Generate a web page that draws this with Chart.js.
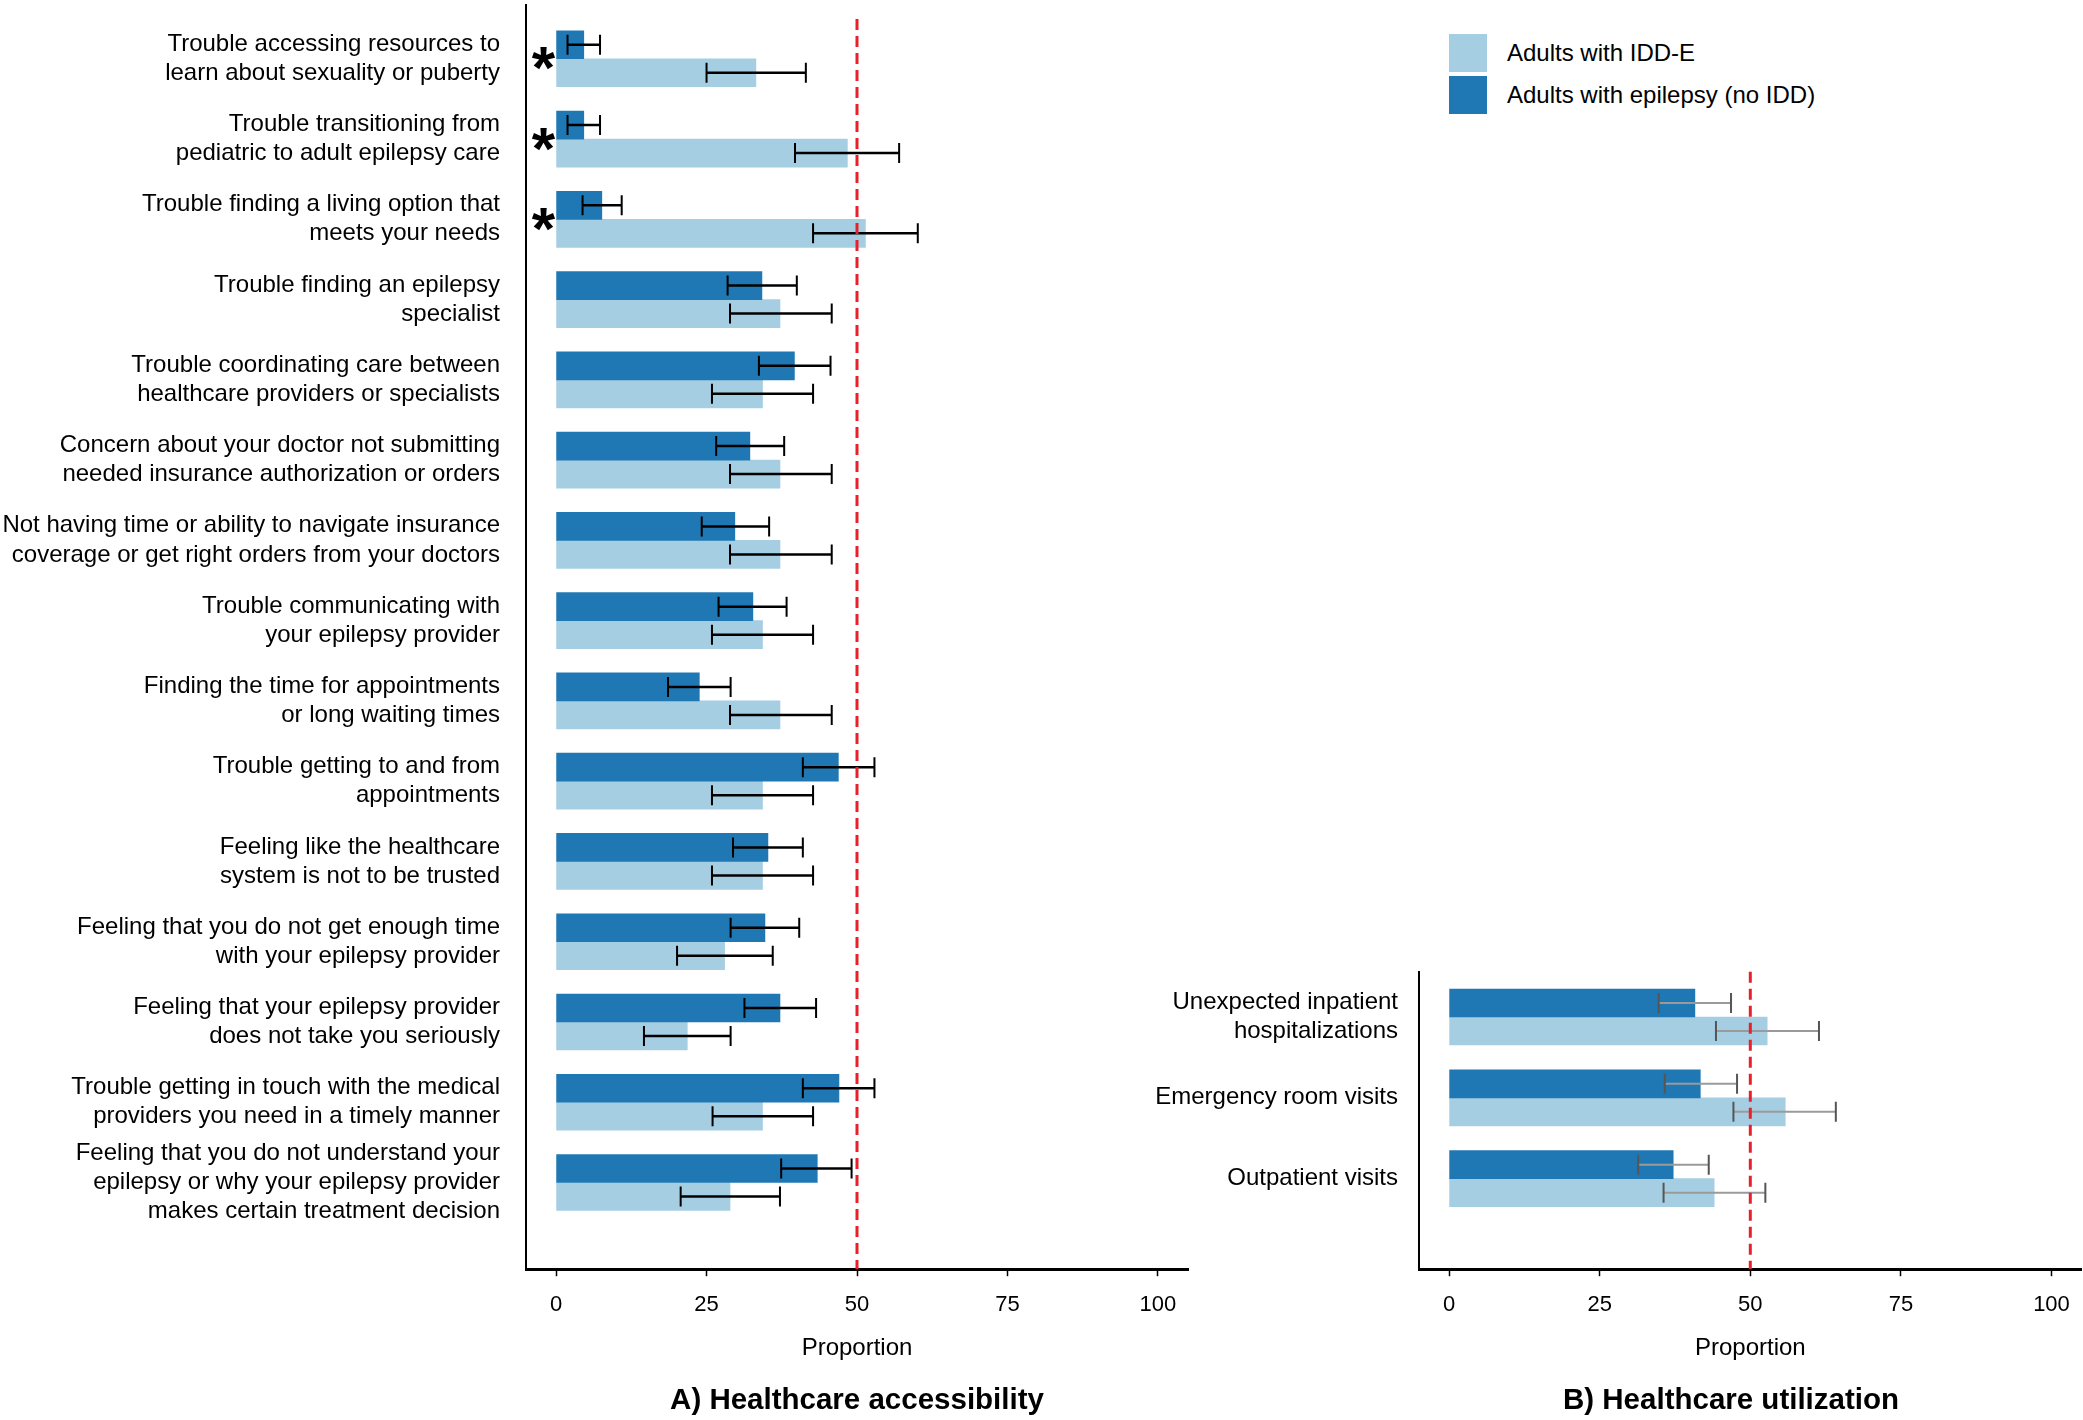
<!DOCTYPE html>
<html>
<head>
<meta charset="utf-8">
<title>Healthcare accessibility and utilization</title>
<script src="https://cdn.jsdelivr.net/npm/chart.js@4.4.1/dist/chart.umd.min.js"></script>
<style>
    html, body { margin: 0; padding: 0; background: #fff; }
    body { width: 2083px; height: 1420px; position: relative; overflow: hidden; font-family: "Liberation Sans", Arial, sans-serif; }
    canvas { position: absolute; }
    #chartA { left: 0; top: 0; }
    #chartB { left: 1100px; top: 900px; }
    #legend { position: absolute; left: 1449px; top: 34px; }
    #legend .item { height: 38px; margin-bottom: 4px; display: flex; align-items: center; font-size: 24px; color: #000; }
    #legend .swatch { width: 38px; height: 38px; margin-right: 20px; display: inline-block; }
</style>
</head>
<body>
<canvas id="chartA" width="1200" height="1420"></canvas>
<canvas id="chartB" width="1262" height="520"></canvas>
<div id="legend"></div>
<script>
/*
 * Data (proportions, %)
 */
var categoriesA = [
    ['Trouble accessing resources to', 'learn about sexuality or puberty'],
    ['Trouble transitioning from', 'pediatric to adult epilepsy care'],
    ['Trouble finding a living option that', 'meets your needs'],
    ['Trouble finding an epilepsy', 'specialist'],
    ['Trouble coordinating care between', 'healthcare providers or specialists'],
    ['Concern about your doctor not submitting', 'needed insurance authorization or orders'],
    ['Not having time or ability to navigate insurance', 'coverage or get right orders from your doctors'],
    ['Trouble communicating with', 'your epilepsy provider'],
    ['Finding the time for appointments', 'or long waiting times'],
    ['Trouble getting to and from', 'appointments'],
    ['Feeling like the healthcare', 'system is not to be trusted'],
    ['Feeling that you do not get enough time', 'with your epilepsy provider'],
    ['Feeling that your epilepsy provider', 'does not take you seriously'],
    ['Trouble getting in touch with the medical', 'providers you need in a timely manner'],
    ['Feeling that you do not understand your', 'epilepsy or why your epilepsy provider', 'makes certain treatment decision']
];
var epilepsyA   = [4.6, 4.6, 7.6, 34.2, 39.6, 32.2, 29.7, 32.7, 23.8, 46.9, 35.2, 34.7, 37.2, 47.0, 43.4];
var epilepsyALo = [1.9, 1.9, 4.4, 28.5, 33.7, 26.6, 24.2, 27.0, 18.6, 41.0, 29.4, 29.0, 31.3, 41.0, 37.4];
var epilepsyAHi = [7.3, 7.3, 10.9, 40.0, 45.6, 37.9, 35.4, 38.3, 29.0, 52.9, 41.0, 40.4, 43.2, 52.9, 49.1];
var iddA        = [33.2, 48.4, 51.4, 37.2, 34.3, 37.2, 37.2, 34.3, 37.2, 34.3, 34.3, 28.0, 21.8, 34.3, 28.9];
var iddALo      = [25.0, 39.7, 42.7, 28.9, 25.9, 28.9, 28.9, 25.9, 28.9, 25.9, 25.9, 20.1, 14.6, 26.0, 20.7];
var iddAHi      = [41.5, 57.0, 60.1, 45.8, 42.7, 45.8, 45.8, 42.7, 45.8, 42.7, 42.7, 36.0, 29.0, 42.7, 37.2];
var significantA = [true, true, true, false, false, false, false, false, false, false, false, false, false, false, false];

var categoriesB = [
    ['Unexpected inpatient', 'hospitalizations'],
    'Emergency room visits',
    'Outpatient visits'
];
var epilepsyB   = [40.8, 41.7, 37.2];
var epilepsyBLo = [34.8, 35.8, 31.4];
var epilepsyBHi = [46.8, 47.8, 43.1];
var iddB        = [52.8, 55.8, 44.0];
var iddBLo      = [44.3, 47.2, 35.6];
var iddBHi      = [61.4, 64.2, 52.5];

var xTicks = [0, 25, 50, 75, 100];
var referenceValue = 50;

var labelEpilepsy = 'Adults with epilepsy (no IDD)';
var labelIdd = 'Adults with IDD-E';
var colorEpilepsy = '#1f78b4';
var colorIdd = '#a6cee3';

Chart.defaults.font.family = '"Liberation Sans", Arial, sans-serif';
Chart.defaults.color = '#000';

/*
 * Error bars, drawn at each bar centre
 */
var errorBarsPlugin = {
    id: 'errorBars',
    afterDatasetsDraw: function(chart, args, opts) {
        var ctx = chart.ctx;
        var xScale = chart.scales.x;
        var cap = opts.capSize || 20;
        chart.data.datasets.forEach(function(ds, di) {
            var meta = chart.getDatasetMeta(di);
            meta.data.forEach(function(bar, i) {
                var x1 = xScale.getPixelForValue(ds.errLo[i]);
                var x2 = xScale.getPixelForValue(ds.errHi[i]);
                var y = bar.y;
                ctx.save();
                ctx.strokeStyle = opts.color;
                ctx.lineWidth = opts.width;
                ctx.beginPath();
                ctx.moveTo(x1, y);
                ctx.lineTo(x2, y);
                ctx.stroke();
                ctx.strokeStyle = opts.capColor;
                ctx.lineWidth = opts.capWidth;
                ctx.beginPath();
                ctx.moveTo(x1, y - cap / 2);
                ctx.lineTo(x1, y + cap / 2);
                ctx.moveTo(x2, y - cap / 2);
                ctx.lineTo(x2, y + cap / 2);
                ctx.stroke();
                ctx.restore();
            });
        });
    }
};

/*
 * Dashed reference line at 50%
 */
var refLinePlugin = {
    id: 'refLine',
    afterDatasetsDraw: function(chart, args, opts) {
        var ctx = chart.ctx;
        var area = chart.chartArea;
        var x = chart.scales.x.getPixelForValue(opts.value);
        ctx.save();
        ctx.strokeStyle = '#e8202a';
        ctx.lineWidth = 3;
        ctx.setLineDash([11, 6]);
        ctx.beginPath();
        ctx.moveTo(x, area.top + (opts.topOffset || 0));
        ctx.lineTo(x, area.bottom);
        ctx.stroke();
        ctx.restore();
    }
};

/*
 * Significance asterisks left of the bars
 */
var sigPlugin = {
    id: 'sigMarks',
    afterDatasetsDraw: function(chart, args, opts) {
        if (!opts.flags) return;
        var ctx = chart.ctx;
        ctx.save();
        ctx.font = 'bold 60px "Liberation Sans", Arial, sans-serif';
        ctx.fillStyle = '#000';
        ctx.textAlign = 'center';
        ctx.textBaseline = 'alphabetic';
        var m = ctx.measureText('*');
        var dy = (m.actualBoundingBoxAscent - m.actualBoundingBoxDescent) / 2;
        opts.flags.forEach(function(flag, i) {
            if (!flag) return;
            var x = chart.scales.x.getPixelForValue(opts.at);
            var y = chart.scales.y.getPixelForValue(i);
            ctx.fillText('*', x, y + dy);
        });
        ctx.restore();
    }
};

/*
 * Builds a horizontal grouped bar chart
 */
var createChart = function(id, o) {
    var toPoints = function(values) {
        return values.map(function(v, i) { return { x: v, y: i }; });
    };

    var scales = {
        x: {
            type: 'linear',
            min: -5,
            max: 105,
            afterBuildTicks: function(s) {
                s.ticks = xTicks.map(function(v) { return { value: v }; });
            },
            afterFit: function(s) { s.height = 114.4; },
            grid: { drawOnChartArea: false, drawTicks: true, tickLength: 7, tickWidth: 1.5, tickColor: '#000' },
            border: { display: true, color: '#000', width: 3 },
            ticks: { font: { size: 22 }, color: '#000', padding: 16 },
            title: {
                display: true,
                text: 'Proportion',
                color: '#000',
                font: { size: 24 },
                padding: { top: 0, bottom: 21 }
            }
        },
        y: {
            type: 'linear',
            reverse: true,
            offset: false,
            min: o.yMin,
            max: o.yMax,
            afterBuildTicks: function(s) {
                s.ticks = o.categories.map(function(c, i) { return { value: i }; });
            },
            afterFit: function(s) {
                s.width = o.yWidth;
                // labels may overhang the plot, don't let them push the chart area
                s.paddingTop = 0;
                s.paddingBottom = 0;
            },
            grid: { display: false },
            border: { display: true, color: '#000', width: 2 },
            ticks: {
                autoSkip: false,
                color: '#000',
                padding: o.labelPad,
                font: { size: 24, lineHeight: 1.21 },
                callback: function(value, index) { return o.categories[index]; }
            }
        }
    };

    // empty right-hand box, keeps the plot narrower than the title row
    if (o.rightSpace) {
        scales.spacer = {
            type: 'linear',
            position: 'right',
            afterFit: function(s) { s.width = o.rightSpace; },
            ticks: { display: false },
            grid: { display: false },
            border: { display: false }
        };
    }

    return new Chart(document.getElementById(id).getContext('2d'), {
        type: 'bar',
        data: {
            datasets: [{
                label: labelEpilepsy,
                data: toPoints(o.epilepsy),
                errLo: o.epilepsyLo,
                errHi: o.epilepsyHi,
                backgroundColor: colorEpilepsy,
                barThickness: 28,
                xAxisID: 'x',
                yAxisID: 'y'
            }, {
                label: labelIdd,
                data: toPoints(o.idd),
                errLo: o.iddLo,
                errHi: o.iddHi,
                backgroundColor: colorIdd,
                barThickness: 28,
                xAxisID: 'x',
                yAxisID: 'y'
            }]
        },
        options: {
            indexAxis: 'y',
            responsive: false,
            animation: false,
            devicePixelRatio: 1,
            layout: { padding: o.padding },
            scales: scales,
            plugins: {
                legend: { display: false },
                tooltip: { enabled: false },
                title: {
                    display: true,
                    text: o.title,
                    position: 'bottom',
                    fullSize: o.titleFull,
                    color: '#000',
                    font: { size: 29.5, weight: 'bold', lineHeight: 1.2 },
                    padding: { top: 0, bottom: 1 }
                },
                errorBars: o.errorStyle,
                refLine: { value: referenceValue, topOffset: o.refTop },
                sigMarks: { flags: o.significant, at: -2.1 }
            }
        },
        plugins: [errorBarsPlugin, refLinePlugin, sigPlugin]
    });
};

createChart('chartA', {
    categories: categoriesA,
    epilepsy: epilepsyA, epilepsyLo: epilepsyALo, epilepsyHi: epilepsyAHi,
    idd: iddA, iddLo: iddALo, iddHi: iddAHi,
    significant: significantA,
    yMin: -0.67, yMax: 15.08,
    yWidth: 526,
    labelPad: 18,
    refTop: 14,
    rightSpace: 0,
    padding: { top: 5, right: 12, left: 0, bottom: 0 },
    title: 'A) Healthcare accessibility',
    titleFull: false,
    errorStyle: { color: '#000', width: 2.5, capColor: '#000', capWidth: 2, capSize: 20 }
});

// panel B title sits a bit left of its axis centre, so centre it on a wider canvas
createChart('chartB', {
    categories: categoriesB,
    epilepsy: epilepsyB, epilepsyLo: epilepsyBLo, epilepsyHi: epilepsyBHi,
    idd: iddB, iddLo: iddBLo, iddHi: iddBHi,
    significant: null,
    yMin: -0.56, yMax: 3.12,
    yWidth: 319,
    labelPad: 13,
    refTop: 0,
    rightSpace: 280.4,
    padding: { top: 71.7, right: 0, left: 0, bottom: 0 },
    title: 'B) Healthcare utilization',
    titleFull: true,
    errorStyle: { color: '#9a9a9a', width: 2, capColor: '#555', capWidth: 2, capSize: 20 }
});

// Legend, light series listed first as in the figure
var legendItems = [[labelIdd, colorIdd], [labelEpilepsy, colorEpilepsy]];
document.getElementById('legend').innerHTML = legendItems.map(function(it) {
    return '<div class="item"><span class="swatch" style="background:' + it[1] + '"></span>' + it[0] + '</div>';
}).join('');
</script>
</body>
</html>
